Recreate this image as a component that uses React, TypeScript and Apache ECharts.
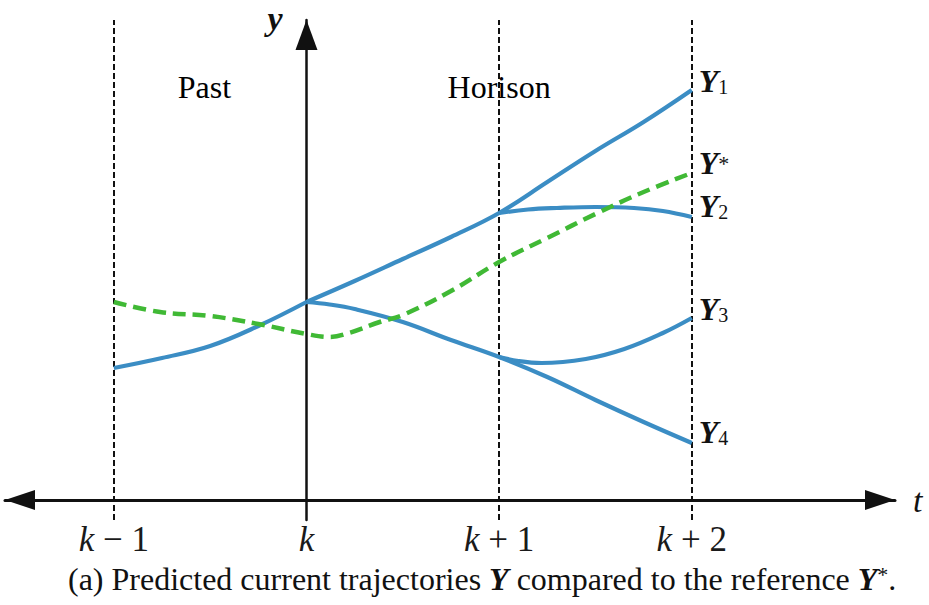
import React, { useEffect, useRef } from 'react';
import * as echarts from 'echarts';

const SERIF = '"Liberation Serif", "DejaVu Serif", serif';
const INK = '#111111';
const BLUE = '#3b8dc4';
const GREEN = '#40b935';

// Time axis: k-1 .. k+2
const tickValues = [-1, 0, 1, 2];
const tickLabels = ['k − 1', 'k', 'k + 1', 'k + 2'];
const horizonMarks = [-1, 1, 2];

// Trajectories as [time, output] pairs
const pastTrajectory = [
  [-1, 26.4], [-0.75, 28.4], [-0.5, 30.8], [-0.25, 34.8], [0, 39.6],
];
const trajectoryY1 = [
  [0, 39.6], [0.25, 43.8], [0.5, 48.2], [0.75, 52.6], [1, 57.4],
  [1.25, 63.6], [1.5, 69.8], [1.75, 75.6], [2, 82.0],
];
const trajectoryY2 = [
  [1, 57.4], [1.15, 58.1], [1.3, 58.4], [1.5, 58.6], [1.7, 58.4], [1.85, 57.8], [2, 56.6],
];
const trajectoryY3 = [
  [1, 28.6], [1.1, 27.8], [1.22, 27.4], [1.45, 28.2], [1.65, 30.2], [1.85, 33.4], [2, 36.4],
];
const trajectoryY4 = [
  [0, 39.6], [0.12, 39.1], [0.25, 38.2], [0.5, 35.6], [0.75, 32.0], [1, 28.6],
  [1.25, 24.6], [1.5, 20.0], [1.75, 15.6], [2, 11.4],
];
const referenceTrajectory = [
  [-1, 39.6], [-0.76, 37.6], [-0.5, 36.8], [-0.25, 35.2], [0, 33.2], [0.12, 32.6],
  [0.22, 33.4], [0.38, 35.6], [0.5, 37.0], [0.75, 41.8], [1, 47.6], [1.25, 52.4],
  [1.5, 57.2], [1.75, 61.6], [2, 65.4],
];

const regionNames = ['Past', 'Horison'];
const regionPositions = [[-0.53, 82.6], [1.0, 82.6]];

const captionText =
  '(a) Predicted current trajectories {b|Y} compared to the reference {b|Y}{s|*}.';

const labelRich = {
  y: { fontFamily: SERIF, fontSize: 32, fontWeight: 'bold', fontStyle: 'italic', color: INK, lineHeight: 32 },
  sub: { fontFamily: SERIF, fontSize: 20, color: INK, lineHeight: 16, verticalAlign: 'bottom' },
  sup: { fontFamily: SERIF, fontSize: 22, color: INK, lineHeight: 16, verticalAlign: 'middle' },
};

function trajectorySeries(name: string, data: number[][], label: string | null, dy: number, color = BLUE, dashed = false) {
  return {
    name,
    type: 'line',
    data,
    smooth: 0.4,
    symbol: 'none',
    silent: true,
    lineStyle: { color, width: dashed ? 4.5 : 4.2, type: dashed ? [13, 7] : 'solid', cap: 'butt' },
    endLabel: label
      ? { show: true, formatter: label, rich: labelRich, distance: 7, offset: [0, dy] }
      : { show: false },
    z: dashed ? 4 : 3,
  };
}

export default function App() {
  const ref = useRef<HTMLDivElement>(null);

  useEffect(() => {
    document.body.style.margin = '0';
    if (!ref.current) return;
    const chart = echarts.init(ref.current, null, { renderer: 'svg' });

    chart.setOption({
      animation: false,
      backgroundColor: '#ffffff',
      title: {
        text: captionText,
        left: 68,
        top: 563,
        padding: 0,
        textStyle: {
          fontFamily: SERIF,
          fontSize: 32,
          fontWeight: 'normal',
          color: INK,
          rich: {
            b: { fontFamily: SERIF, fontSize: 32, fontWeight: 'bold', fontStyle: 'italic', color: INK },
            s: { fontFamily: SERIF, fontSize: 22, color: INK, verticalAlign: 'top', lineHeight: 16 },
          },
        },
      },
      grid: { left: 5, right: 34, top: 20, bottom: 85, containLabel: false, outerBoundsMode: 'none' },
      xAxis: {
        type: 'value',
        min: -1.565,
        max: 3.055,
        name: 't',
        nameLocation: 'end',
        nameGap: 18,
        nameMoveOverlap: false,
        nameTextStyle: { fontFamily: SERIF, fontSize: 34, fontStyle: 'italic', color: INK, verticalAlign: 'middle' },
        axisLine: {
          onZero: true,
          symbol: ['triangle', 'triangle'],
          symbolSize: [20, 30],
          symbolOffset: [15, -15],
          lineStyle: { color: INK, width: 3 },
        },
        axisTick: { show: false },
        splitLine: { show: false },
        axisLabel: {
          customValues: tickValues,
          margin: 2,
          color: '#1a1a1a',
          fontFamily: SERIF,
          fontSize: 35,
          formatter: (v: number) => {
            const i = tickValues.indexOf(Math.round(v));
            const s = i >= 0 ? tickLabels[i] : '';
            const rest = s.slice(1);
            return rest ? '{k|k}{r|' + rest + '}' : '{k|k}';
          },
          rich: {
            k: { fontFamily: SERIF, fontSize: 35, fontStyle: 'italic', color: '#1a1a1a' },
            r: { fontFamily: SERIF, fontSize: 35, color: '#1a1a1a' },
          },
        },
      },
      yAxis: {
        type: 'value',
        min: -4,
        max: 96,
        name: 'y',
        nameLocation: 'end',
        nameGap: 2,
        nameMoveOverlap: false,
        nameTextStyle: {
          fontFamily: SERIF, fontSize: 34, fontStyle: 'italic', fontWeight: 'bold', color: INK,
          align: 'right', verticalAlign: 'middle', padding: [0, 24, 0, 0],
        },
        axisLine: {
          onZero: true,
          symbol: ['none', 'triangle'],
          symbolSize: [22, 30],
          symbolOffset: [0, -15],
          lineStyle: { color: INK, width: 2.5 },
        },
        axisTick: { show: false },
        axisLabel: { show: false },
        splitLine: { show: false },
      },
      series: [
        {
          ...trajectorySeries('past', pastTrajectory, null, 0),
          markLine: {
            silent: true,
            symbol: ['none', 'none'],
            label: { show: false },
            lineStyle: { color: INK, width: 2, type: [6, 3] },
            data: horizonMarks.map((x) => ({ xAxis: x })),
            z: 1,
          },
        },
        trajectorySeries('Y1', trajectoryY1, '{y|Y}{sub|1}', -9),
        trajectorySeries('Y2', trajectoryY2, '{y|Y}{sub|2}', -11),
        trajectorySeries('Y3', trajectoryY3, '{y|Y}{sub|3}', -9),
        trajectorySeries('Y4', trajectoryY4, '{y|Y}{sub|4}', -11),
        trajectorySeries('Y*', referenceTrajectory, '{y|Y}{sup|*}', -10, GREEN, true),
        {
          name: 'regions',
          type: 'scatter',
          silent: true,
          symbolSize: 0,
          itemStyle: { opacity: 1 },
          data: regionPositions.map((p, i) => ({ value: p, name: regionNames[i] })),
          label: {
            show: true,
            position: 'inside',
            formatter: (p: any) => p.name,
            fontFamily: SERIF,
            fontSize: 32,
            color: '#000000',
            opacity: 1,
          },
        },
      ],
    });

    return () => chart.dispose();
  }, []);

  return <div ref={ref} style={{ width: 929, height: 605 }} />;
}
